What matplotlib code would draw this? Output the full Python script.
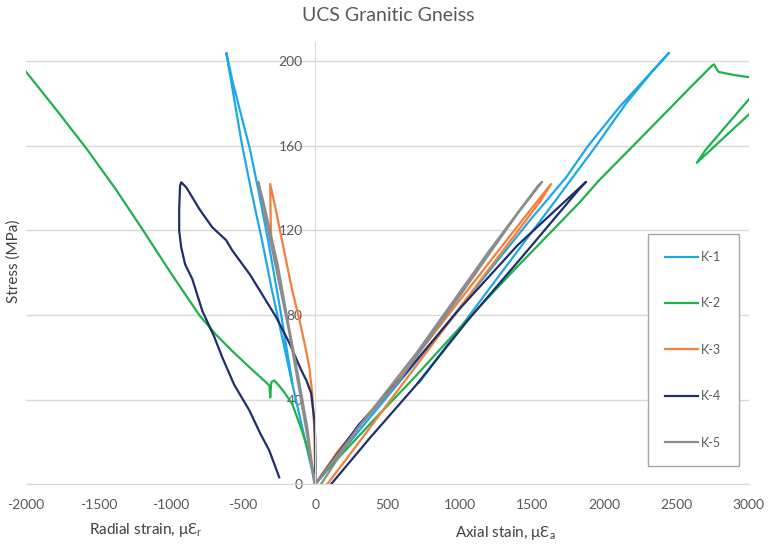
"""UCS stress-strain curves for granitic gneiss specimens."""

import matplotlib
matplotlib.use('Agg')
import matplotlib.pyplot as plt

plt.rcParams['font.family'] = ['Lato', 'DejaVu Sans']
plt.rcParams['axes.unicode_minus'] = False

# radial strain (negative) vs stress, per specimen
k1_radial_x = [0, -40, -100, -160, -230, -300, -367, -440, -505, -560, -615,
               -570, -510, -450, -390, -325, -240, -159]
k1_radial_y = [0, 12, 30, 48, 70, 92, 115, 138, 160, 182, 204,
               190, 174, 158, 138, 115, 82, 48]
k1_axial_x = [0, 300, 700, 1100, 1500, 1735, 1888, 2100, 2448,
              2330, 2150, 1943, 1650, 1200, 719]
k1_axial_y = [0, 25, 58, 92, 126, 145, 160, 178, 204,
              195, 180, 160, 133, 92, 48]

k2_radial_x = [0, -20, -50, -90, -159, -214, -255, -283, -300, -305, -311,
               -316, -332, -450, -574, -690, -802, -1000, -1190, -1380,
               -1580, -1790, -2000]
k2_radial_y = [0, 8, 16, 25, 38, 43.5, 47, 49, 48.5, 47.5, 41,
               46.5, 47.7, 55, 63, 71, 80, 100, 120, 139.5,
               158.5, 177, 195]
k2_axial_x = [0, 100, 400, 680, 1000, 1400, 1826, 1964, 2300, 2600,
              2746, 2760, 2790, 2900, 3000, 3100, 3150, 3050, 2640, 2700,
              2850, 3000, 3100]
k2_axial_y = [0, 8, 30, 50, 74, 103, 133, 143.7, 167, 188,
              198, 198.5, 195, 193.5, 192.5, 191, 186, 178, 152, 158,
              170, 182, 190]

k3_radial_x = [0, -3, -7, -21, -40, -62, -110, -160, -205, -270, -311,
               -308, -304]
k3_radial_y = [0, 12, 27, 43, 55, 63, 78, 92, 107, 129, 142,
               125, 115]
k3_axial_x = [0, 150, 580, 1000, 1400, 1632, 1560, 1150, 600, 250, 83]
k3_axial_y = [0, 15, 50, 87, 122, 142, 134, 97, 47, 15, 0]

k4_radial_x = [0, 2, 0, -5, -28, -60, -97, -180, -270, -387, -450, -574,
               -616, -712, -800, -892, -927, -935, -941, -941, -927, -900,
               -850, -781, -700, -643, -560, -456, -380, -318, -280, -249]
k4_radial_y = [0, 10, 22, 30, 43, 49, 54, 67, 79, 92, 99, 110.6,
               115.4, 121.5, 130, 140.4, 142.8, 141, 130, 120, 112, 104,
               97, 82, 70, 60, 47, 35, 24, 16, 9, 3.3]
k4_axial_x = [0, 300, 620, 1000, 1400, 1700, 1874,
              1820, 1450, 1050, 700, 380, 110]
k4_axial_y = [0, 28, 52, 83, 113, 132, 143,
              139, 109, 77, 47, 22, 0]

k5_radial_x = [0, -20, -55, -120, -194, -260, -320, -360, -394,
               -380, -300, -180, -60, -5]
k5_radial_y = [0, 8, 27, 52, 79, 104, 122, 134, 143,
               138, 112, 72, 25, 0]
k5_axial_x = [0, 300, 581, 1000, 1400, 1570, 1540, 1200, 700, 300, 40]
k5_axial_y = [0, 27, 49, 89, 128, 143, 141, 110, 62, 27, 0]

specimens = ['K-1', 'K-2', 'K-3', 'K-4', 'K-5']
colors = ['#1FA8E8', '#1DB24B', '#F0803C', '#1F2F6B', '#8C8C8C']
radial = [(k1_radial_x, k1_radial_y), (k2_radial_x, k2_radial_y),
          (k3_radial_x, k3_radial_y), (k4_radial_x, k4_radial_y),
          (k5_radial_x, k5_radial_y)]
axial = [(k1_axial_x, k1_axial_y), (k2_axial_x, k2_axial_y),
         (k3_axial_x, k3_axial_y), (k4_axial_x, k4_axial_y),
         (k5_axial_x, k5_axial_y)]

x_ticks = list(range(-2000, 3001, 500))
y_ticks = [0, 40, 80, 120, 160, 200]

text_color = '#595959'
grid_color = '#d9d9d9'

fig = plt.figure(figsize=(7.68, 5.49), dpi=100)
ax = fig.add_axes([0.034, 0.118, 0.941, 0.805])

for name, color, (rx, ry), (axx, axy) in zip(specimens, colors, radial, axial):
    ax.plot(rx, ry, color=color, lw=1.6, label=name)
    ax.plot(axx, axy, color=color, lw=1.6)

ax.set_xlim(-2000, 3000)
ax.set_ylim(0, 209)
ax.set_xticks(x_ticks)
ax.set_yticks(y_ticks)
ax.yaxis.grid(True, color=grid_color, lw=1)
ax.set_axisbelow(True)

# y axis sits on zero strain
ax.spines['left'].set_position(('data', 0))
ax.spines['left'].set_color(grid_color)
ax.spines['bottom'].set_color(grid_color)
ax.spines['top'].set_visible(False)
ax.spines['right'].set_visible(False)
ax.tick_params(axis='both', length=0, labelsize=10, labelcolor=text_color)
ax.tick_params(axis='x', pad=11)
ax.tick_params(axis='y', pad=9)

ax.set_ylabel('Stress (MPa)', fontsize=11, color='#404040')
ax.yaxis.set_label_coords(-0.007, 0.505)

fig.text(0.505, 0.972, 'UCS Granitic Gneiss', ha='center', va='center',
         fontsize=14, color=text_color)
fig.text(0.19, 0.035, r'Radial strain, μƐ$_\mathregular{r}$', ha='center',
         va='center', fontsize=11, color='#404040')
fig.text(0.658, 0.03, r'Axial stain, μƐ$_\mathregular{a}$', ha='center',
         va='center', fontsize=11, color='#404040')

leg = ax.legend(loc='lower left', bbox_to_anchor=(0.860, 0.041), fontsize=9,
                labelspacing=2.75, handlelength=2.6, handletextpad=0.3,
                borderpad=1.4, borderaxespad=0, fancybox=False, framealpha=1)
leg.get_frame().set_edgecolor('#a6a6a6')
for t in leg.get_texts():
    t.set_color(text_color)

fig.savefig('out.png', dpi=100)
